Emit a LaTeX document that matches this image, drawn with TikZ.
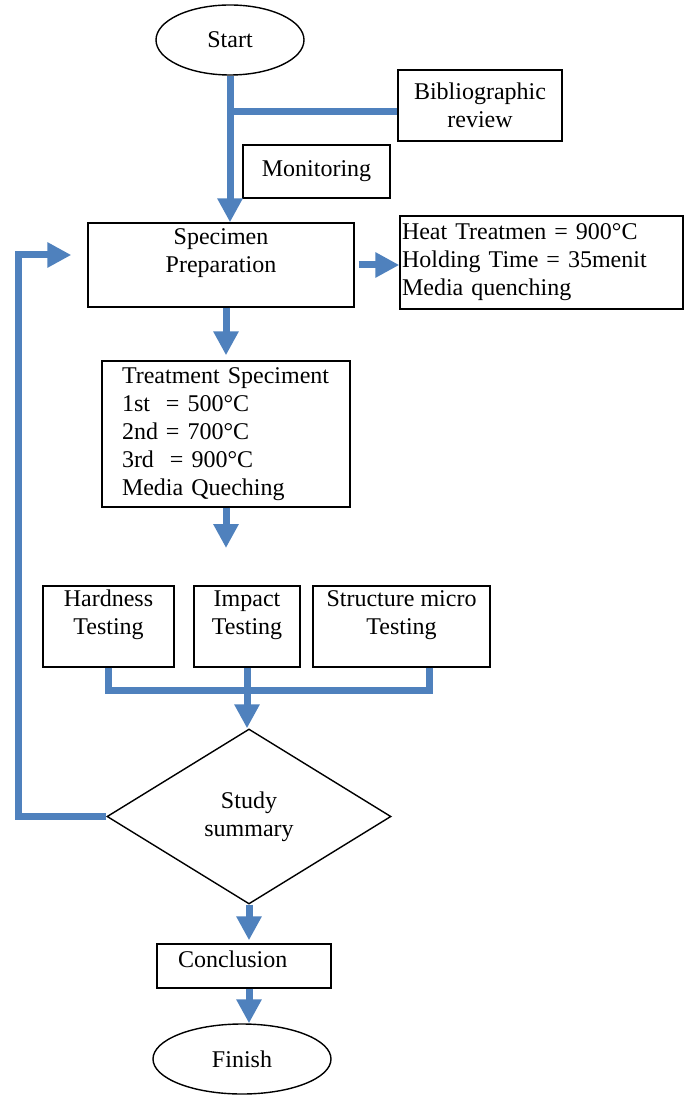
\documentclass[tikz,border=0pt]{standalone}
\usepackage{fontspec}
\setmainfont{Liberation Serif}
\usetikzlibrary{arrows.meta, shapes}
\definecolor{flowblue}{RGB}{79,129,189}
\tikzstyle{arrow} = [-{Triangle[width=12pt,length=12pt]}, flowblue, line width=3.5pt]
\tikzstyle{link} = [flowblue, line width=3.5pt]
\tikzstyle{block} = [draw, rectangle, align=center, inner sep=0pt, line width=0.7pt]
\tikzstyle{terminal} = [draw, ellipse, inner sep=0pt, line width=0.7pt]
\tikzstyle{decision} = [draw, diamond, align=center, inner sep=0pt, line width=0.7pt]

\begin{document}
\begin{tikzpicture}[x=0.5pt, y=-0.5pt, font=\fontsize{12}{14}\selectfont]
        \useasboundingbox (0,0) rectangle (692,1095);
        \node [terminal, minimum width=74pt, minimum height=35pt] (start) at (230,40) {Start};
        \node [block, minimum width=82pt, minimum height=35.5pt] (biblio) at (480,105.5) {Bibliographic\\review};
        \node [block, minimum width=73.5pt, minimum height=26.5pt] (monitor) at (316.5,171.5) {Monitoring};
        \node [block, minimum width=133pt, minimum height=42pt] (spec) at (221,265) {Specimen\\Preparation\\\mbox{}};
        \node [block, align=left, inner xsep=1pt, text width=139.5pt, minimum height=46.5pt] (heat) at (541.5,262.5) {Heat Treatmen = 900°C\\Holding Time = 35menit\\Media quenching};
        \node [block, align=left, inner xsep=10pt, text width=104pt, minimum height=73pt] (treat) at (226,434) {Treatment Speciment\\1st~ = 500°C\\2nd = 700°C\\3rd~ = 900°C\\Media Queching};
        \coordinate (gap) at (226,548);
        \node [block, minimum width=65.5pt, minimum height=40.5pt] (hard) at (108.5,626.5) {Hardness\\Testing\\\mbox{}};
        \node [block, minimum width=53pt, minimum height=40.5pt] (impact) at (247,626.5) {Impact\\Testing\\\mbox{}};
        \node [block, minimum width=88.5pt, minimum height=40.5pt] (struct) at (401.5,626.5) {Structure micro\\Testing\\\mbox{}};
        \coordinate (join) at (247,690);
        \node [decision, minimum width=142pt, minimum height=87.5pt] (study) at (249,816.5) {Study\\summary};
        \coordinate (back) at (18,255);
        \node [block, align=left, inner xsep=10.5pt, text width=66pt, minimum height=22pt, text depth=7pt] (concl) at (244,966) {Conclusion};
        \node [terminal, minimum width=89pt, minimum height=35pt] (finish) at (242,1059) {Finish};

        \draw [arrow] (start.south) -- (start.south |- spec.north);
        \draw [link] (start.south |- biblio.west) ++(0,6) -- ([yshift=-3pt]biblio.west);
        \draw [arrow] ([xshift=2pt]spec.east) -- (spec.east -| heat.west);
        \draw [arrow, shorten >=2.5pt] (spec.south -| treat.north) -- (treat.north);
        \draw [arrow] (treat.south) -- (gap);
        \draw [link] (hard.south) |- (join);
        \draw [link] ([xshift=14pt]struct.south) |- (join);
        \draw [arrow] (impact.south) -- (impact.south |- study.north);
        \draw [arrow, shorten >=8pt] (study.west) -| (back) |- ([yshift=5pt]spec.west);
        \draw [arrow, shorten >=1.5pt] (study.south) -- (study.south |- concl.north);
        \draw [arrow] (concl.south -| study.south) -- (study.south |- finish.north);
\end{tikzpicture}
\end{document}
